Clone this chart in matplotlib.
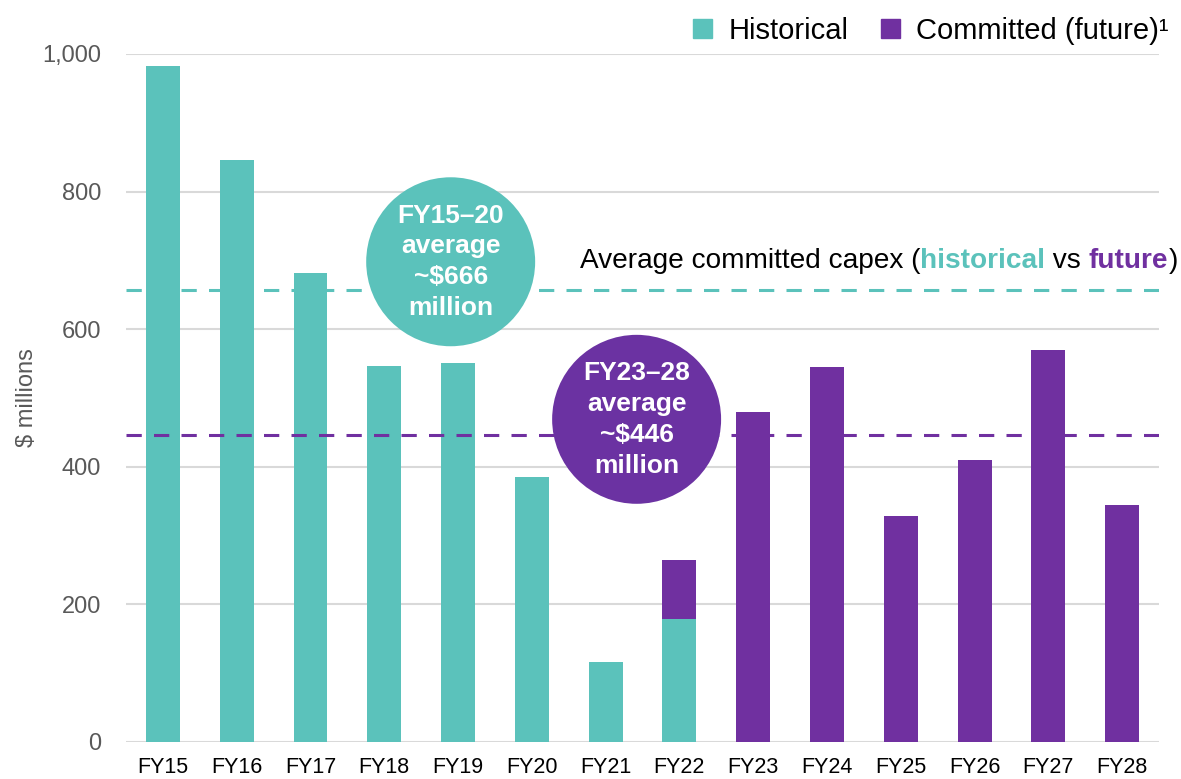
import matplotlib.pyplot as plt
from matplotlib.patches import Patch
import numpy as np

plt.rcParams['font.family'] = ['Liberation Sans', 'DejaVu Sans']

years = ["FY15", "FY16", "FY17", "FY18", "FY19", "FY20", "FY21",
         "FY22", "FY23", "FY24", "FY25", "FY26", "FY27", "FY28"]
historical = [983, 846, 682, 547, 551, 385, 117, 179, 0, 0, 0, 0, 0, 0]
committed = [0, 0, 0, 0, 0, 0, 0, 86, 480, 545, 328, 410, 570, 344]
hist_avg = 657
future_avg = 446

teal = "#5BC2BB"
purple = "#7030A0"
purple_circle = "#6B32A2"
grey = "#595959"

fig = plt.figure(figsize=(11.81, 7.79), dpi=100)
ax = fig.add_axes([0.1067, 0.0475, 0.8747, 0.8832])

x = np.arange(len(years))
ax.bar(x, historical, width=0.46, color=teal, zorder=2)
ax.bar(x, committed, width=0.46, bottom=historical, color=purple, zorder=2)

ax.axhline(hist_avg, color=teal, lw=2.2, dashes=(5, 4), zorder=3)
ax.axhline(future_avg, color=purple, lw=2.2, dashes=(5, 4), zorder=3)

ax.set_xlim(-0.5, len(years) - 0.5)
ax.set_ylim(0, 1000)
ax.set_yticks([0, 200, 400, 600, 800, 1000])
ax.set_yticklabels(["0", "200", "400", "600", "800", "1,000"])
ax.set_xticks(x)
ax.set_xticklabels(years)
ax.tick_params(axis='y', length=0, labelsize=17, labelcolor=grey, pad=18)
ax.tick_params(axis='x', length=0, labelsize=15.5, labelcolor="black", pad=11)
ax.grid(axis='y', color="#D9D9D9", lw=1.5, zorder=0)
ax.set_axisbelow(True)
for s in ax.spines.values():
    s.set_visible(False)
ax.set_ylabel("$ millions", fontsize=17, color=grey)
ax.yaxis.set_label_coords(-0.085, 0.5)

# average bubbles
ax.scatter([3.90], [698], s=14800, color=teal, zorder=4, edgecolors='none', clip_on=False)
ax.text(3.90, 698, "FY15–20\naverage\n~$666\nmillion", color="white", fontsize=19,
        fontweight='bold', ha='center', va='center', linespacing=1.36, zorder=5)
ax.scatter([6.42], [469], s=14800, color=purple_circle, zorder=4, edgecolors='none', clip_on=False)
ax.text(6.42, 469, "FY23–28\naverage\n~$446\nmillion", color="white", fontsize=19,
        fontweight='bold', ha='center', va='center', linespacing=1.36, zorder=5)

# multicolour caption
t = fig.text(0.491, 0.656, "Average committed capex (", fontsize=20.2, color="black", va='baseline')
for piece, col, wt in [("historical", teal, 'bold'), (" vs ", "black", 'normal'),
                       ("future", purple, 'bold'), (")", "black", 'normal')]:
    t = ax.annotate(piece, xy=(1, 0), xycoords=t, va='bottom', ha='left',
                    fontsize=20.2, color=col, fontweight=wt, annotation_clip=False)

handles = [Patch(color=teal, label="Historical"),
           Patch(color=purple, label="Committed (future)¹")]
fig.legend(handles=handles, loc='upper right', bbox_to_anchor=(1.012, 1.012), ncol=2,
           frameon=False, fontsize=21, handlelength=0.65, handleheight=0.65,
           handletextpad=0.55, columnspacing=1.13)

fig.savefig("out.png")
